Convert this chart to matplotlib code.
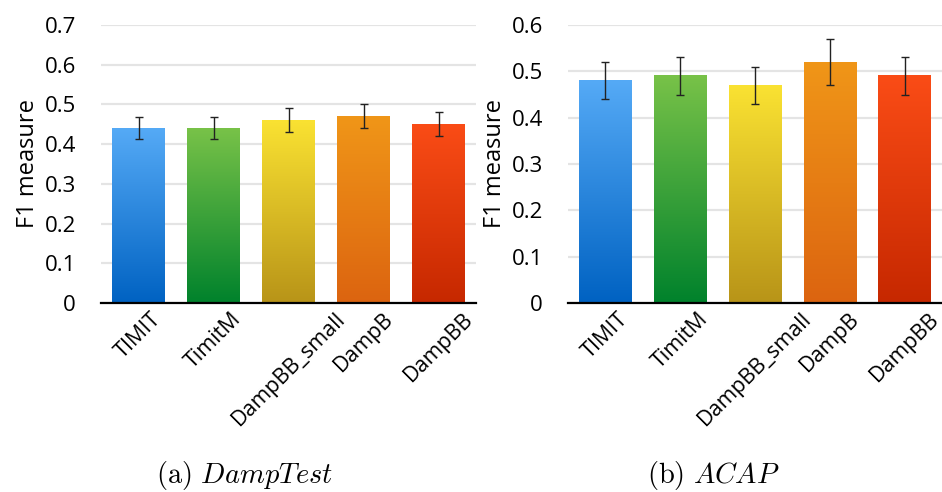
import numpy as np
import matplotlib
matplotlib.use("Agg")
import matplotlib.pyplot as plt
import matplotlib.transforms as mtransforms
from matplotlib.colors import LinearSegmentedColormap

plt.rcParams['font.family'] = ['Open Sans', 'DejaVu Sans']
plt.rcParams['mathtext.fontset'] = 'cm'

# datos
categorias = ['TIMIT', 'TimitM', 'DampBB_small', 'DampB', 'DampBB']
f1_damptest = [0.44, 0.44, 0.46, 0.47, 0.45]
err_damptest = [0.028, 0.028, 0.03, 0.03, 0.03]
f1_acap = [0.48, 0.49, 0.47, 0.52, 0.49]
err_acap = [0.04, 0.04, 0.04, 0.05, 0.04]

# colores (arriba, abajo) de cada barra
colores = [('#55aaf6', '#0062c2'),
           ('#78c248', '#00822c'),
           ('#fae232', '#b89418'),
           ('#f09618', '#dc6410'),
           ('#fa4c16', '#c62800')]


def barras(ax, valores, errores, ymax, paso):
    x = np.arange(len(categorias))
    ancho = 0.7
    bars = ax.bar(x, valores, width=ancho, color='none', zorder=3)
    for i, b in enumerate(bars):
        cmap = LinearSegmentedColormap.from_list('g', [colores[i][1], colores[i][0]])
        grad = np.linspace(0, 1, 256).reshape(-1, 1)
        ax.imshow(grad, cmap=cmap, origin='lower', aspect='auto', zorder=3,
                  extent=(b.get_x(), b.get_x() + ancho, 0, b.get_height()))
    ax.errorbar(x, valores, yerr=errores, fmt='none', ecolor='#222222',
                elinewidth=1.0, capsize=3, capthick=1.0, zorder=4)
    ax.set_xlim(-0.5, len(categorias) - 0.5)
    ax.set_ylim(0, ymax)
    ax.set_yticks(np.arange(0, ymax + 1e-9, paso))
    ax.set_yticklabels(['0'] + [f'{v:.1f}' for v in np.arange(paso, ymax + 1e-9, paso)])
    ax.set_xticks(x)
    ax.set_xticklabels(categorias, rotation=45, ha='center', va='top', fontsize=15.5)
    # mover un poco las etiquetas a la izquierda, como en el original
    desplaza = mtransforms.ScaledTranslation(-5 / 100, 0, ax.figure.dpi_scale_trans)
    for lab in ax.get_xticklabels():
        lab.set_transform(lab.get_transform() + desplaza)
    ax.tick_params(axis='y', length=0, labelsize=16, pad=18)
    ax.tick_params(axis='x', length=0, pad=4)
    ax.grid(axis='y', color='#e4e4e4', linewidth=1.6, zorder=0)
    ax.set_axisbelow(True)
    for s in ['top', 'right', 'left']:
        ax.spines[s].set_visible(False)
    ax.spines['bottom'].set_linewidth(1.6)
    ax.spines['bottom'].set_zorder(5)
    ax.set_ylabel('F1 measure', fontsize=17, labelpad=3)


fig = plt.figure(figsize=(9.42, 4.92), dpi=100)
ax1 = fig.add_axes([101 / 942, 1 - 303 / 492, 375 / 942, 278 / 492])
ax2 = fig.add_axes([568 / 942, 1 - 303 / 492, 374 / 942, 278 / 492])

barras(ax1, f1_damptest, err_damptest, 0.7, 0.1)
barras(ax2, f1_acap, err_acap, 0.6, 0.1)

fig.text(245 / 942, 1 - 475 / 492, r'$\mathrm{(a)}\ DampTest$', ha='center', va='center', fontsize=20.5)
fig.text(713 / 942, 1 - 475 / 492, r'$\mathrm{(b)}\ ACAP$', ha='center', va='center', fontsize=20.5)

fig.savefig('out.png', dpi=100)
